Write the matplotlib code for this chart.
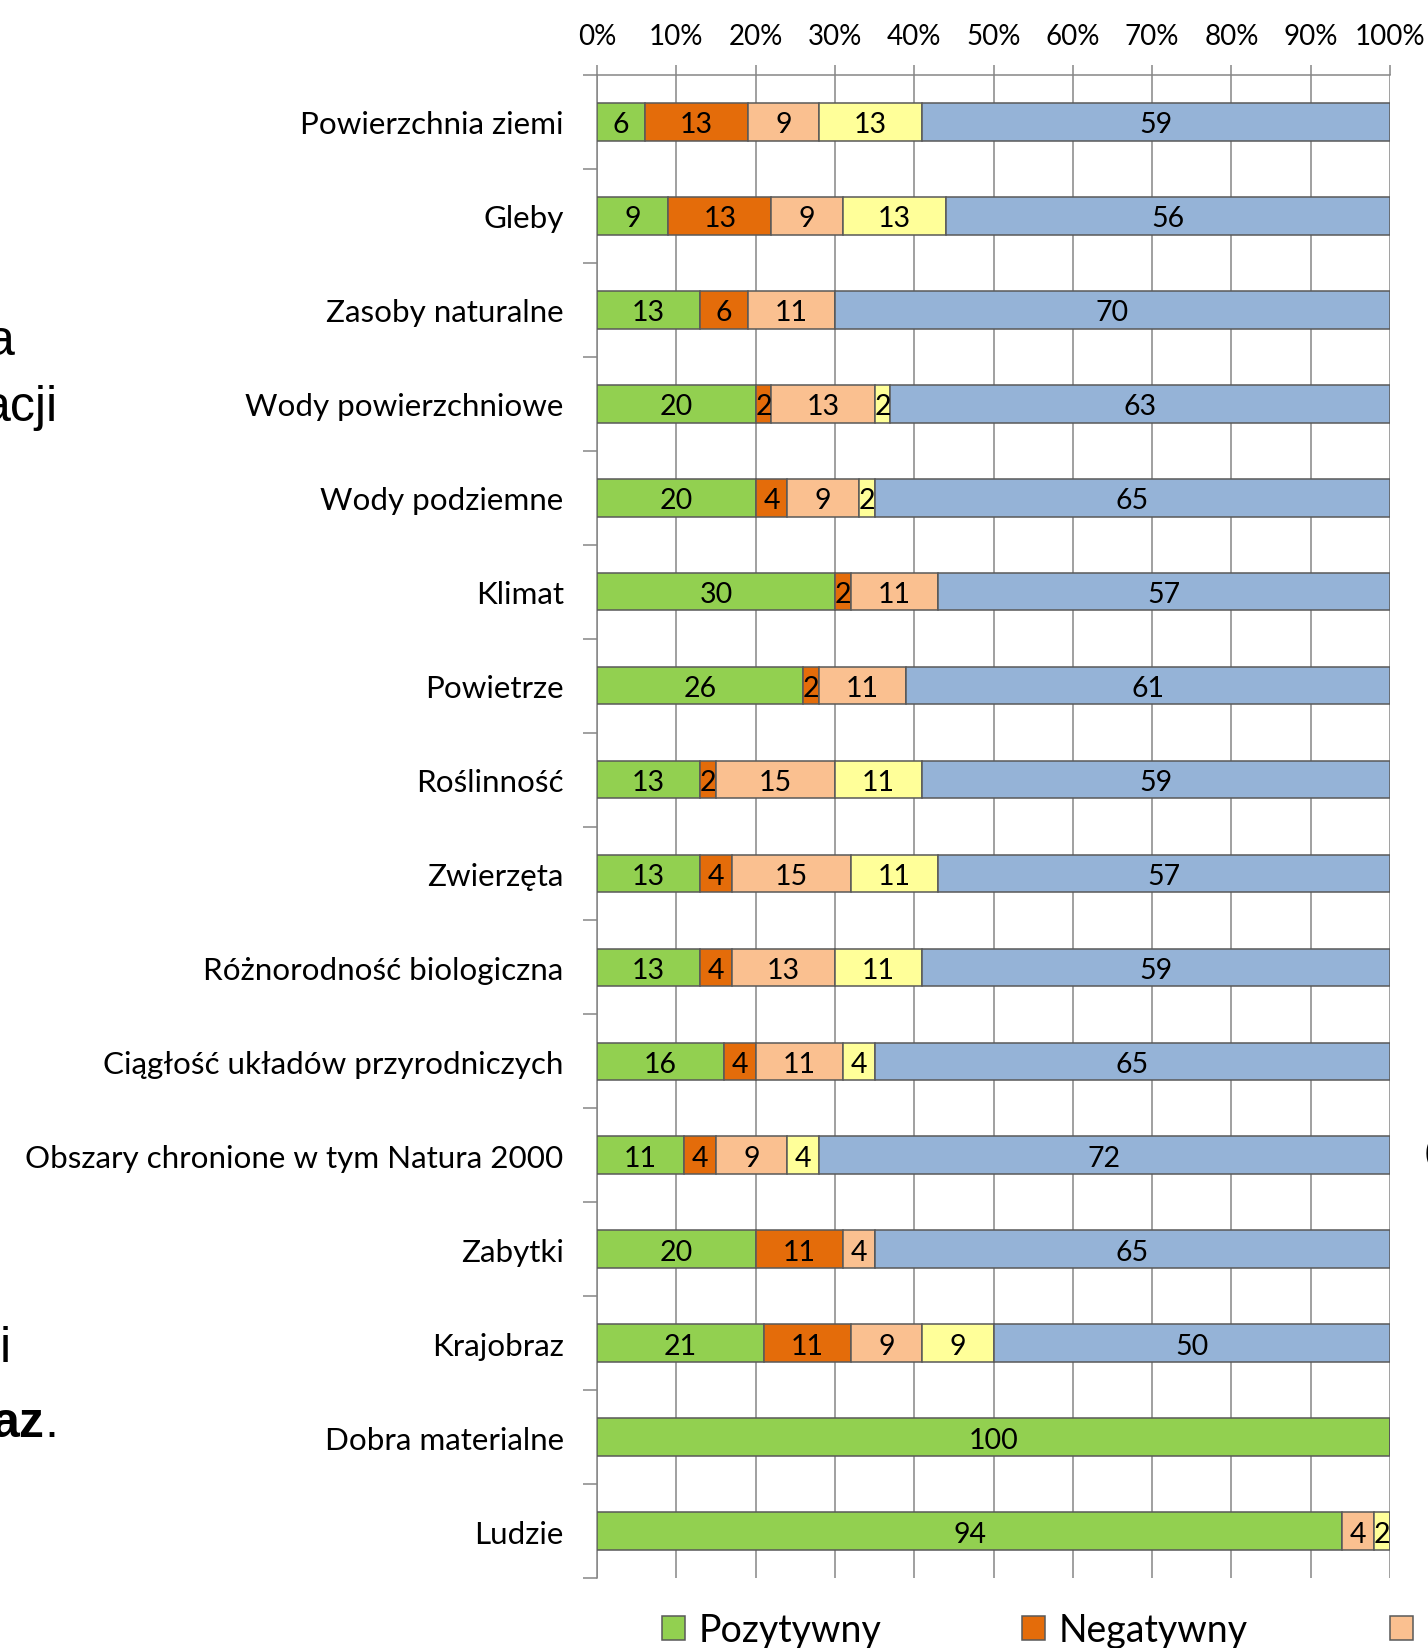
import matplotlib
matplotlib.use('Agg')
import matplotlib.pyplot as plt
from matplotlib.patches import Patch
from matplotlib.ticker import FixedLocator
import numpy as np

plt.rcParams['font.family'] = ['Lato', 'DejaVu Sans']

# dane: udzial procentowy oddzialywan dla kazdego komponentu
kategorie = ['Powierzchnia ziemi', 'Gleby', 'Zasoby naturalne',
             'Wody powierzchniowe', 'Wody podziemne', 'Klimat', 'Powietrze',
             'Roślinność', 'Zwierzęta', 'Różnorodność biologiczna',
             'Ciągłość układów przyrodniczych',
             'Obszary chronione w tym Natura 2000', 'Zabytki', 'Krajobraz',
             'Dobra materialne', 'Ludzie']

pozytywny = [6, 9, 13, 20, 20, 30, 26, 13, 13, 13, 16, 11, 20, 21, 100, 94]
negatywny = [13, 13, 6, 2, 4, 2, 2, 2, 4, 4, 4, 4, 11, 11, 0, 0]
seria3 = [9, 9, 11, 13, 9, 11, 11, 15, 15, 13, 11, 9, 4, 9, 0, 4]
seria4 = [13, 13, 0, 2, 2, 0, 0, 11, 11, 11, 4, 4, 0, 9, 0, 2]
seria5 = [59, 56, 70, 63, 65, 57, 61, 59, 57, 59, 65, 72, 65, 50, 0, 0]

nazwy_serii = ['Pozytywny', 'Negatywny', 'Nieznaczny', 'Niejednoznaczny', 'Brak']
kolory = ['#92D050', '#E46C0A', '#FAC090', '#FFFF99', '#95B3D7']
serie = [pozytywny, negatywny, seria3, seria4, seria5]

W, H = 1428, 1649
fig = plt.figure(figsize=(W / 100, H / 100), dpi=100, facecolor='white')
ax = fig.add_axes([597 / W, 1 - 1579 / H, (1390 - 597) / W, (1579 - 76) / H])

y = np.arange(len(kategorie))
lewo = np.zeros(len(kategorie))
for wartosci, kolor in zip(serie, kolory):
    wartosci = np.array(wartosci, dtype=float)
    bary = ax.barh(y, wartosci, left=lewo, height=0.4, color=kolor,
                   edgecolor='#595959', linewidth=1.1, zorder=3)
    etykiety = [str(int(v)) if v > 0 else '' for v in wartosci]
    teksty = ax.bar_label(bary, labels=etykiety, label_type='center',
                          fontsize=20.5, color='black', zorder=4)
    for t in teksty:
        t.set_va('center_baseline')
    lewo += wartosci

ax.set_xlim(0, 100)
ax.set_ylim(len(kategorie) - 0.5, -0.5)

ax.xaxis.tick_top()
ax.set_xticks(np.arange(0, 101, 10))
ax.set_xticklabels([f'{v}%' for v in range(0, 101, 10)], fontsize=20)
ax.tick_params(axis='x', which='major', length=7, width=1.1,
               color='#868686', pad=12)

ax.set_yticks(y)
ax.set_yticklabels(kategorie, fontsize=22.6)
ax.yaxis.set_minor_locator(FixedLocator(np.arange(-0.5, len(kategorie), 1)))
ax.tick_params(axis='y', which='major', length=0, pad=24)
ax.tick_params(axis='y', which='minor', length=10, width=1.1, color='#868686')

ax.grid(axis='x', color='#868686', linewidth=1.1, zorder=0)
ax.set_axisbelow(True)
for s in ['right', 'bottom']:
    ax.spines[s].set_visible(False)
for s in ['left', 'top']:
    ax.spines[s].set_color('#868686')
    ax.spines[s].set_linewidth(1.1)

# legenda (przycieta przez krawedz obrazu)
pozycje_leg = [662, 1022, 1390, 1760, 2130]
for nazwa, kolor, xp in zip(nazwy_serii, kolory, pozycje_leg):
    fig.legend(handles=[Patch(facecolor=kolor, edgecolor='#595959', lw=1.1)],
               labels=[nazwa], loc='center left',
               bbox_to_anchor=(xp / W, 1 - 1631 / H), frameon=False,
               fontsize=27, handlelength=0.62, handleheight=0.62,
               handletextpad=0.37, borderpad=0, borderaxespad=0)

# fragmenty tekstu ze slajdu
fig.text(15 / W, 1 - 355 / H, 'a', ha='right', va='baseline', fontsize=36,
         family='Liberation Sans')
fig.text(58 / W, 1 - 421 / H, 'acji', ha='right', va='baseline', fontsize=36,
         family='Liberation Sans')
fig.text(11 / W, 1 - 1362 / H, 'i', ha='right', va='baseline', fontsize=36,
         family='Liberation Sans')
fig.text(44 / W, 1 - 1437 / H, 'az', ha='right', va='baseline', fontsize=36,
         family='Liberation Sans', weight='bold')
fig.text(44 / W, 1 - 1437 / H, '.', ha='left', va='baseline', fontsize=36,
         family='Liberation Sans')
fig.text(1425 / W, 1 - 1162 / H, '(', ha='left', va='baseline', fontsize=22,
         family='Lato')

fig.savefig('out.png', dpi=100, facecolor='white')
